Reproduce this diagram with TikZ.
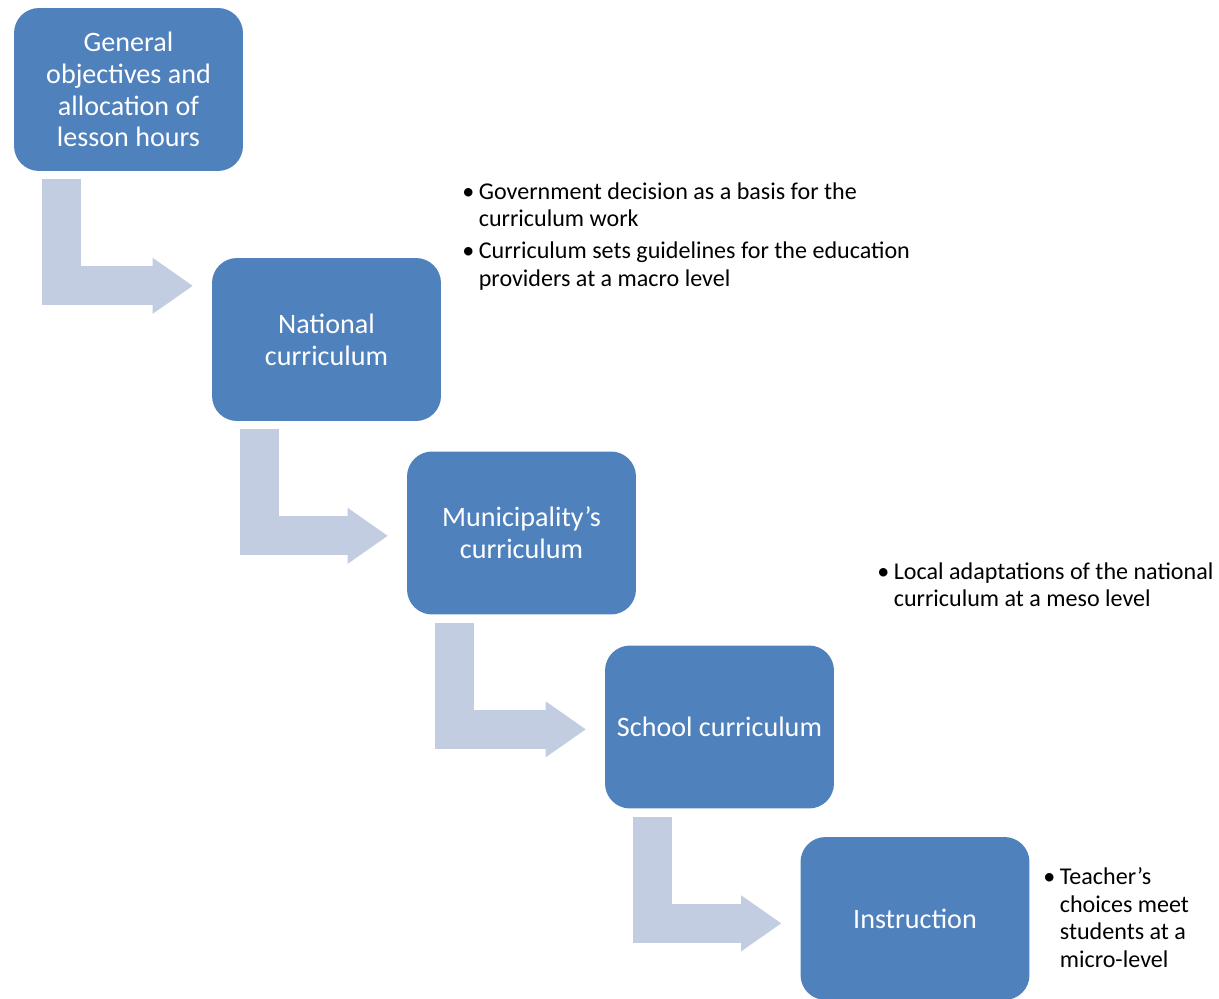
\documentclass[tikz,border=0pt]{standalone}
\usepackage{fontspec}
\setmainfont{Carlito}
\usepackage{xcolor}
\usepackage{tikz}
\usetikzlibrary{arrows.meta,calc}

\definecolor{boxblue}{RGB}{79,129,189}
\definecolor{arrowblue}{RGB}{194,205,225}
\newcommand{\notebul}{\makebox[0.33cm][l]{\textbullet}}
\newcommand{\noteind}{\hspace*{0.33cm}}

\tikzset{
	level/.style={rectangle, rounded corners=0.5cm, fill=boxblue, text=white, minimum width=4.58cm, minimum height=3.26cm, align=center, inner sep=2pt, font=\fontsize{16}{18.1}\selectfont},
	note/.style={anchor=north west, align=left, inner sep=0pt, font=\fontsize{13.7}{15.8}\selectfont},
	flowarrow/.style={draw=arrowblue, line width=0.78cm, -{Triangle[length=0.8cm 0 1, width=1.12cm 0 1, line width=0pt 0 0]}}
}

\begin{document}
\begin{tikzpicture}[x=0.02cm, y=-0.02cm]
		\useasboundingbox (0,0) rectangle (1219,999);
		\node[level] (gen) at (128.5,89.5) {General\\objectives and\\allocation of\\lesson hours};
		\node[level] (nat) at (326.5,339.5) {National\\curriculum};
		\node[level] (mun) at (521.5,533) {Municipality's\\curriculum};
		\node[level] (sch) at (719.5,727) {School curriculum};
		\node[level] (ins) at (915,918.5) {Instruction};
		%
		\draw[flowarrow] ([shift={(47.5,8)}]gen.south west) |- ($(nat.west |- gen.south)+(-19,114.5)$);
		\draw[flowarrow] ([shift={(47.5,8)}]nat.south west) |- ($(mun.west |- nat.south)+(-19,114.5)$);
		\draw[flowarrow] ([shift={(47.5,8)}]mun.south west) |- ($(sch.west |- mun.south)+(-19,114.5)$);
		\draw[flowarrow] ([shift={(47.5,8)}]sch.south west) |- ($(ins.west |- sch.south)+(-19,114.5)$);
		%
		\node[note] (natnote) at (462,182) {\notebul Government decision as a basis for the\\ \noteind curriculum work\\[0.08cm]
			\notebul Curriculum sets guidelines for the education\\ \noteind providers at a macro level};
		\node[note] (munnote) at (877,562) {\notebul Local adaptations of the national\\ \noteind curriculum at a meso level};
		\node[note] (insnote) at (1043,867) {\notebul Teacher's\\ \noteind choices meet\\ \noteind students at a\\ \noteind micro-level};
\end{tikzpicture}
\end{document}
